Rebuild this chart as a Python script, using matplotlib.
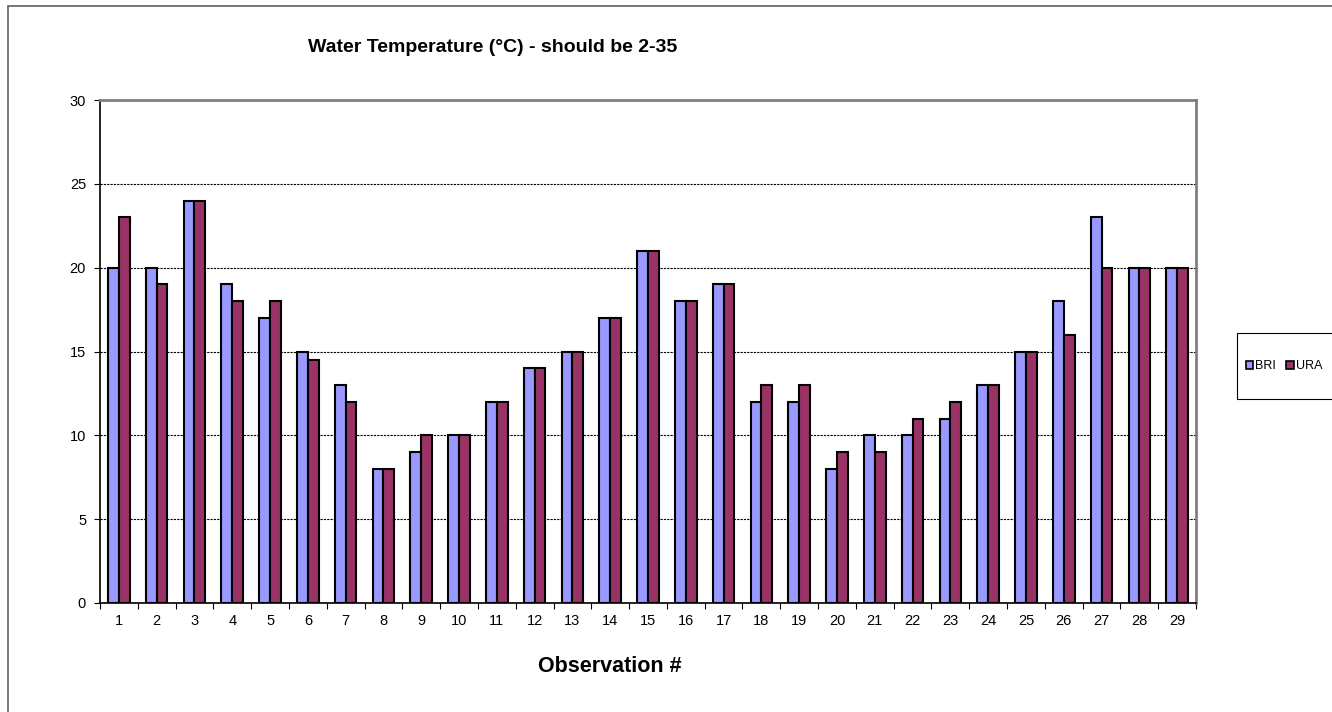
import numpy as np
import matplotlib
matplotlib.use('Agg')
import matplotlib.pyplot as plt
from matplotlib.patches import Rectangle

plt.rcParams['font.family'] = ['Liberation Sans', 'DejaVu Sans']

# data
observations = list(range(1, 30))
bri = [20, 20, 24, 19, 17, 15, 13, 8, 9, 10, 12, 14, 15, 17, 21, 18, 19,
       12, 12, 8, 10, 10, 11, 13, 15, 18, 23, 20, 20]
ura = [23, 19, 24, 18, 18, 14.5, 12, 8, 10, 10, 12, 14, 15, 17, 21, 18, 19,
       13, 13, 9, 9, 11, 12, 13, 15, 16, 20, 20, 20]
series_names = ['BRI', 'URA']
series_colors = ['#9999FF', '#993366']

W, H = 1332, 712
fig = plt.figure(figsize=(W / 100, H / 100), dpi=100)
fig.patch.set_facecolor('white')

# outer chart frame (only left/top fall inside the image)
fig.add_artist(Rectangle((8 / W, -0.5), 1.5, 1.5 - 6 / H, transform=fig.transFigure,
                         fill=False, edgecolor='#606060', linewidth=1.2))

ax = fig.add_axes([100 / W, 1 - 603 / H, (1196 - 100) / W, (603 - 100) / H])

x = np.arange(len(observations))
bw = 0.286
ax.bar(x - bw / 2, bri, width=bw, color=series_colors[0], edgecolor='black',
       linewidth=1.5, label=series_names[0], zorder=3)
ax.bar(x + bw / 2, ura, width=bw, color=series_colors[1], edgecolor='black',
       linewidth=1.5, label=series_names[1], zorder=3)

ax.set_xlim(-0.5, len(observations) - 0.5)
ax.set_ylim(0, 30)
ax.set_yticks(range(0, 31, 5))
ax.yaxis.grid(True, linestyle=(0, (2, 1)), color='black', linewidth=0.8, zorder=0)

ax.set_xticks(x)
ax.set_xticklabels([str(o) for o in observations], fontsize=10.5)
ax.set_xticks(np.arange(-0.5, len(observations)), minor=True)
ax.tick_params(axis='x', which='major', length=0, pad=8)
ax.tick_params(axis='x', which='minor', length=4, width=0.8, direction='out')
ax.tick_params(axis='y', length=4, width=0.8, labelsize=10.5, pad=6)

for side in ['top', 'right']:
    ax.spines[side].set_color('#808080')
    ax.spines[side].set_linewidth(2)
for side in ['left', 'bottom']:
    ax.spines[side].set_color('black')
    ax.spines[side].set_linewidth(1.2)

fig.text(493 / W, 1 - 48 / H, 'Water Temperature (°C) - should be 2-35',
         ha='center', va='center', fontsize=14, fontweight='bold')
fig.text(610 / W, 1 - 667 / H, 'Observation #', ha='center', va='center',
         fontsize=15.5, fontweight='bold')

# legend box runs past the right edge in the reference
fig.add_artist(Rectangle((1237 / W, 1 - 399 / H), 200 / W, 66 / H,
                         transform=fig.transFigure, fill=False,
                         edgecolor='black', linewidth=0.8))
leg = fig.legend(loc='center left', bbox_to_anchor=(1243 / W, 1 - 366 / H), ncol=2,
                 fontsize=9, frameon=False, handlelength=0.6,
                 handleheight=0.6, handletextpad=0.2, columnspacing=0.8,
                 borderpad=0.2, borderaxespad=0)
for h in leg.legend_handles:
    h.set_linewidth(1.2)

fig.savefig('out.png', dpi=100)
